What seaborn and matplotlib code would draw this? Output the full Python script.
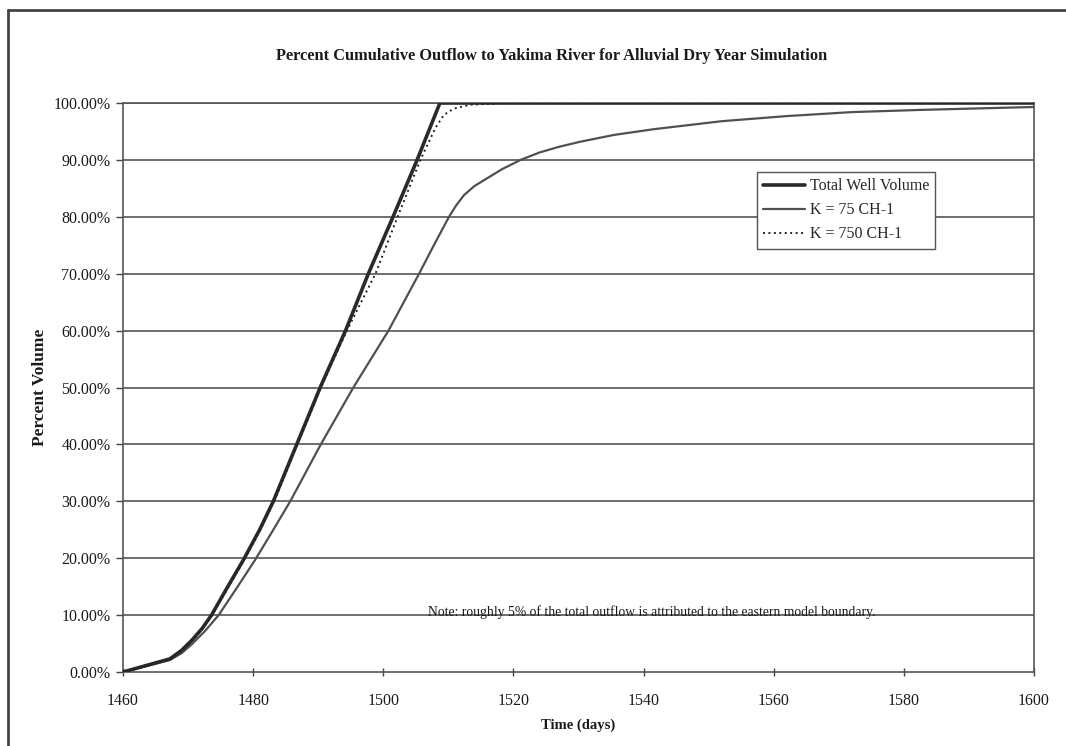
import matplotlib
matplotlib.use("Agg")
import matplotlib.pyplot as plt
import seaborn as sns
import pandas as pd
from matplotlib.lines import Line2D
from matplotlib.ticker import FuncFormatter

# ---- data ----
total_days = [1460, 1467.2, 1469.0, 1470.6, 1472.2, 1473.6, 1476.0, 1478.5, 1481.0,
              1483.1, 1486.7, 1490.3, 1494.2, 1497.7, 1501.5, 1505.2, 1508.7, 1600]
total_pct = [0.0, 2.3, 3.8, 5.6, 7.7, 10.0, 14.8, 19.7, 25.0,
             30.0, 40.0, 50.0, 60.0, 70.0, 80.0, 90.0, 100.0, 100.0]

k75_days = [1460, 1467.2, 1469.0, 1470.6, 1472.6, 1474.7, 1477.5, 1480.3, 1483.0,
            1485.7, 1490.4, 1495.4, 1500.8, 1505.5, 1508.0, 1510.1, 1511.2, 1512.4,
            1514.0, 1516.0, 1518.3, 1521.1, 1524.0, 1527.0, 1530.3, 1535.5, 1541.6,
            1552.0, 1562.0, 1572.0, 1583.0, 1600]
k75_pct = [0.0, 2.1, 3.3, 4.9, 7.2, 10.0, 14.8, 19.7, 24.8,
           30.0, 40.0, 50.0, 60.0, 70.0, 75.5, 80.0, 82.0, 83.8,
           85.4, 86.8, 88.4, 90.0, 91.3, 92.3, 93.2, 94.4, 95.4,
           96.8, 97.7, 98.4, 98.8, 99.3]

k750_days = [1460, 1467.2, 1469.0, 1470.6, 1472.2, 1473.7, 1476.1, 1478.6, 1481.1,
             1483.2, 1486.8, 1490.4, 1494.4, 1498.8, 1502.2, 1505.7, 1508.0, 1509.3,
             1510.8, 1513.4, 1519.0, 1600]
k750_pct = [0.0, 2.2, 3.7, 5.5, 7.6, 10.0, 14.8, 19.7, 25.0,
            30.0, 40.0, 50.0, 60.0, 70.0, 80.0, 90.0, 95.6, 97.9,
            99.0, 99.7, 100.0, 100.0]

series_names = ["Total Well Volume", "K = 75 CH-1", "K = 750 CH-1"]
y_ticks = [0, 10, 20, 30, 40, 50, 60, 70, 80, 90, 100]
x_ticks = [1460, 1480, 1500, 1520, 1540, 1560, 1580, 1600]

title = "Percent Cumulative Outflow to Yakima River for Alluvial Dry Year Simulation"
note = "Note: roughly 5% of the total outflow is attributed to the eastern model boundary."

# ---- style ----
sns.set_theme(style="white")
plt.rcParams["font.family"] = ["Liberation Serif", "DejaVu Serif"]

W, H = 1066, 746
fig = plt.figure(figsize=(W / 100, H / 100), dpi=100)
fig.patch.set_facecolor("white")
L, R, T, B = 123, 1034, 103, 672
ax = fig.add_axes([L / W, 1 - B / H, (R - L) / W, (B - T) / H])

grid_col = "#555555"
for yv in y_ticks[1:]:
    ax.axhline(yv, color=grid_col, lw=1.2, zorder=1)

df_total = pd.DataFrame({"day": total_days, "pct": total_pct})
df_k75 = pd.DataFrame({"day": k75_days, "pct": k75_pct})
df_k750 = pd.DataFrame({"day": k750_days, "pct": k750_pct})

sns.lineplot(data=df_k75, x="day", y="pct", ax=ax, color="#505050", lw=1.6,
             zorder=3, estimator=None, sort=False)
sns.lineplot(data=df_total, x="day", y="pct", ax=ax, color="#2a2a2a", lw=2.6,
             zorder=4, estimator=None, sort=False)
sns.lineplot(data=df_k750, x="day", y="pct", ax=ax, color="#222222", lw=1.4,
             linestyle=(0, (1.0, 1.8)), zorder=5, estimator=None, sort=False)

ax.set_xlim(1460, 1600)
ax.set_ylim(0, 100)
ax.set_xticks(x_ticks)
ax.set_yticks(y_ticks)
ax.yaxis.set_major_formatter(FuncFormatter(lambda v, p: f"{v:.2f}%"))
ax.tick_params(axis="y", direction="out", length=5, width=1, color="#444444",
               labelsize=11.5, pad=4, left=True)
ax.tick_params(axis="x", direction="inout", length=6, width=1, color="#444444",
               labelsize=11.5, pad=12, bottom=True)
for lab in ax.get_xticklabels() + ax.get_yticklabels():
    lab.set_color("#1a1a1a")

for s in ax.spines.values():
    s.set_visible(True)
    s.set_color("#555555")
    s.set_linewidth(1.2)

ax.set_xlabel("Time (days)", fontsize=10.5, fontweight="bold", color="#1a1a1a", labelpad=7)
ax.set_ylabel("Percent Volume", fontsize=12.5, fontweight="bold", color="#1a1a1a", labelpad=4)

fig.text(552 / W, 1 - 56 / H, title, ha="center", va="center", fontsize=11.8,
         fontweight="bold", color="#1a1a1a")
fig.text(652 / W, 1 - 612 / H, note, ha="center", va="center", fontsize=9.8,
         color="#1a1a1a")

handles = [
    Line2D([], [], color="#2a2a2a", lw=2.6),
    Line2D([], [], color="#505050", lw=1.6),
    Line2D([], [], color="#222222", lw=1.4, linestyle=(0, (1.0, 1.8))),
]
leg = fig.legend(handles, series_names, loc="upper left",
                 bbox_to_anchor=(757 / W, 1 - 172 / H), frameon=True,
                 fancybox=False, framealpha=1, edgecolor="#555555",
                 fontsize=11.5, handlelength=2.6, handletextpad=0.3,
                 borderpad=0.4, labelspacing=0.5, borderaxespad=0)
leg.get_frame().set_linewidth(1.0)

# outer chart frame (scanned chart border)
fig.add_artist(Line2D([8 / W, 8 / W], [0, 1 - 10 / H], color="#444444", lw=2,
                      transform=fig.transFigure))
fig.add_artist(Line2D([8 / W, 1], [1 - 10 / H, 1 - 10 / H], color="#444444", lw=2,
                      transform=fig.transFigure))

fig.savefig("out.png", dpi=100, facecolor="white")
